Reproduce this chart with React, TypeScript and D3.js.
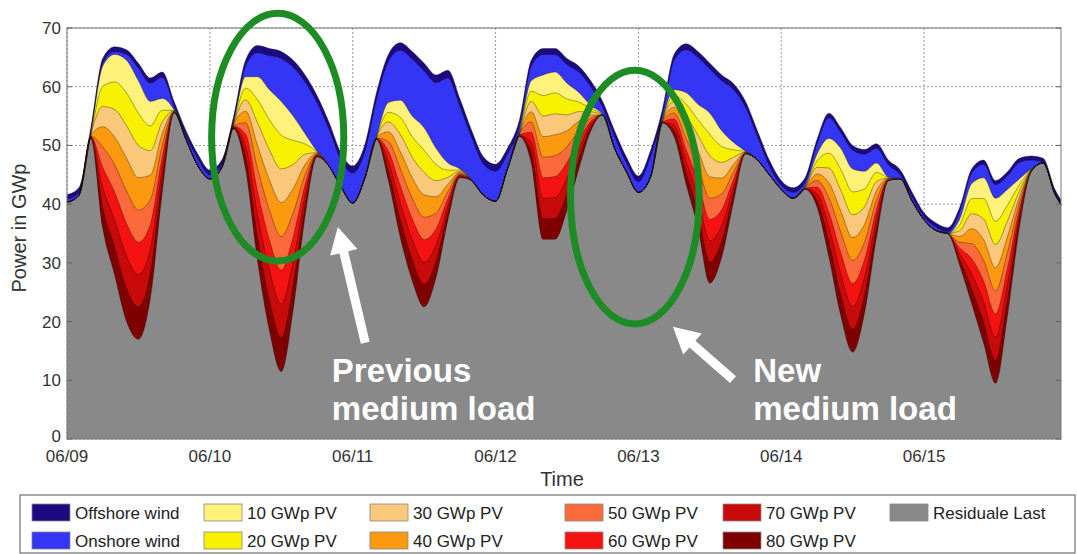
import { useEffect, useRef } from "react";
import * as d3 from "d3";

// time axis: hours after 06/09 00:00, 2h steps
const hours = d3.range(0, 168, 2).concat([167]);

// total load = top of the stack (GW)
const load = [
  41.6, 42.8, 53.0, 64.8, 66.8, 66.3, 64.0, 61.5, 62.5, 57.5, 52.5, 48.5,
  45.8, 47.5, 55.0, 64.5, 67.0, 66.5, 66.0, 64.5, 62.0, 58.5, 54.0, 48.8,
  46.5, 50.0, 59.0, 65.5, 67.5, 66.0, 64.0, 62.0, 62.8, 58.0, 52.5, 48.0,
  46.8, 49.5, 54.3, 64.5, 66.5, 66.5, 64.8, 63.5, 61.0, 57.5, 52.5, 48.0,
  44.8, 49.0, 56.0, 65.5, 67.3, 66.0, 64.0, 62.0, 60.5, 57.5, 52.5, 47.5,
  44.0, 42.8, 44.5, 51.0, 55.5, 53.0, 50.0, 49.3, 50.3, 47.5, 45.8, 42.0,
  38.5, 36.8, 36.0, 39.5, 46.0, 47.5, 44.0, 45.5, 47.8, 48.2, 47.8, 42.5, 40.7,
];

const offshoreWind = [
  0.8, 0.8, 0.8, 0.8, 0.8, 0.8, 0.8, 0.9, 0.9, 0.8, 0.8, 0.8,
  0.8, 0.8, 0.8, 1.0, 1.2, 1.2, 1.2, 1.2, 1.2, 1.2, 1.2, 1.2,
  1.2, 1.2, 1.2, 1.2, 1.3, 1.3, 1.3, 1.3, 1.3, 1.3, 1.2, 1.2,
  1.2, 1.0, 1.0, 1.0, 1.0, 1.0, 1.0, 1.0, 1.0, 1.0, 1.0, 1.0,
  1.0, 1.0, 1.0, 1.0, 1.0, 1.0, 1.0, 1.0, 1.0, 1.0, 1.0, 1.0,
  0.8, 0.8, 0.8, 0.8, 0.8, 0.8, 0.8, 0.8, 0.8, 0.8, 0.8, 0.8,
  0.7, 0.7, 0.7, 0.7, 0.7, 0.7, 0.7, 0.7, 0.7, 0.7, 0.7, 0.7, 0.7,
];

const onshoreWind = [
  0.5, 0.5, 0.2, 0.5, 0.5, 1.0, 2.2, 3.1, 3.6, 0.7, 0.7, 1.2,
  0.7, 0.5, 0.2, 1.8, 4.1, 5.8, 7.3, 8.3, 8.8, 8.3, 6.3, 4.6,
  5.1, 4.5, 6.3, 7.0, 8.5, 9.7, 9.7, 11.2, 14.5, 10.7, 7.3, 5.3,
  5.1, 2.5, 1.0, 2.5, 3.5, 3.0, 3.2, 3.5, 3.2, 1.3, 2.0, 1.5,
  1.8, 3.5, 0.8, 5.0, 7.3, 8.0, 7.5, 8.5, 9.0, 7.5, 4.0, 1.5,
  0.7, 1.0, 0.7, 1.7, 3.5, 2.7, 3.2, 2.9, 2.5, 2.1, 0.7, 0.7,
  0.5, 0.6, 0.3, 1.3, 1.8, 2.3, 2.3, 2.3, 2.8, 1.5, 0.1, 0.1, 0.1,
];

// PV feed-in per 10 GWp installed (GW)
const pvPer10 = [
  0, 0, 0.1, 3.44, 4.69, 5.56, 5.5, 4.19, 2.0, 0.06, 0, 0,
  0, 0, 0.15, 1.96, 3.9, 5.12, 5.75, 4.12, 1.75, 0.12, 0, 0,
  0, 0, 0.06, 1.66, 2.92, 3.5, 3.81, 2.75, 1.21, 0.19, 0, 0,
  0, 0, 0.1, 1.75, 3.5, 3.56, 2.7, 1.62, 0.54, 0, 0, 0,
  0, 0, 0.05, 1.0, 1.94, 2.62, 3.62, 2.69, 1.25, 0.06, 0, 0,
  0, 0, 0.06, 1.12, 2.52, 3.56, 3.9, 3.01, 1.58, 0.08, 0, 0,
  0, 0, 0, 1.0, 2.56, 3.52, 3.94, 2.69, 1.04, 0.06, 0, 0, 0,
];

const dayLabels = ["06/09", "06/10", "06/11", "06/12", "06/13", "06/14", "06/15"];
const yTicks = [0, 10, 20, 30, 40, 50, 60, 70];

const pvKeys = ["pv80", "pv70", "pv60", "pv50", "pv40", "pv30", "pv20", "pv10"];
const stackKeys = ["residual", ...pvKeys, "onshore", "offshore"];

const colors: Record<string, string> = {
  residual: "#898989",
  pv80: "#7e0000",
  pv70: "#c80a0a",
  pv60: "#f51212",
  pv50: "#fb6a3a",
  pv40: "#fb9a10",
  pv30: "#f9c87a",
  pv20: "#f7f000",
  pv10: "#fff27a",
  onshore: "#3535f5",
  offshore: "#1c0b80",
};

const legendItems = [
  ["offshore", "Offshore wind"], ["onshore", "Onshore wind"],
  ["pv10", "10 GWp PV"], ["pv20", "20 GWp PV"],
  ["pv30", "30 GWp PV"], ["pv40", "40 GWp PV"],
  ["pv50", "50 GWp PV"], ["pv60", "60 GWp PV"],
  ["pv70", "70 GWp PV"], ["pv80", "80 GWp PV"],
  ["residual", "Residuale Last"],
];

// annotations in data units (hours, GW)
const ellipses = [
  { h: 35.4, v: 51.4, rh: 11.1, rv: 21.1 },
  { h: 95.4, v: 41.2, rh: 10.8, rv: 21.6 },
];
const arrows = [
  { from: [50.1, 16.4], to: [45.5, 36.1] },
  { from: [111.9, 10.1], to: [101.8, 19.1] },
];
const notes = [
  { h: 44.5, v: 9.7, lines: ["Previous", "medium load"] },
  { h: 115.3, v: 9.7, lines: ["New", "medium load"] },
];

const App: React.FC = () => {
  const svgRef = useRef<SVGSVGElement>(null);

  useEffect(() => {
    const svg = d3.select(svgRef.current);
    svg.selectAll("*").remove();

    const left = 67, right = 1061, top = 28, bottom = 439;
    const font = "'Liberation Sans', Arial, sans-serif";
    const x = d3.scaleLinear().domain([0, 167]).range([left, right]);
    const y = d3.scaleLinear().domain([0, 70]).range([bottom, top]);

    const rows = hours.map((h, i) => {
      const r: any = { h, onshore: onshoreWind[i], offshore: offshoreWind[i] };
      pvKeys.forEach((k) => (r[k] = pvPer10[i]));
      r.residual = load[i] - offshoreWind[i] - onshoreWind[i] - 8 * pvPer10[i];
      return r;
    });
    const series = d3.stack<any>().keys(stackKeys)(rows);

    // grid
    const grid = svg.append("g").attr("stroke", "#999").attr("stroke-dasharray", "2,2").attr("stroke-width", 1);
    dayLabels.forEach((_, i) => {
      grid.append("line").attr("x1", x(i * 24)).attr("x2", x(i * 24)).attr("y1", top).attr("y2", bottom);
    });
    yTicks.forEach((t) => {
      grid.append("line").attr("x1", left).attr("x2", right).attr("y1", y(t)).attr("y2", y(t));
    });

    // areas drawn from zero, top layer first
    const area = d3.area<any>().x((d) => x(d.data.h)).y0(y(0)).y1((d) => y(d[1])).curve(d3.curveMonotoneX);
    const edge = d3.line<any>().x((d) => x(d.data.h)).y((d) => y(d[1])).curve(d3.curveMonotoneX);
    [...series].reverse().forEach((s) => {
      svg.append("path").datum(s).attr("fill", colors[s.key]).attr("d", area);
    });
    series.forEach((s) => {
      svg.append("path").datum(s).attr("fill", "none").attr("stroke", "rgba(20,10,0,0.4)").attr("stroke-width", 0.9).attr("d", edge);
    });

    // frame + ticks
    svg.append("rect").attr("x", left).attr("y", top).attr("width", right - left).attr("height", bottom - top)
      .attr("fill", "none").attr("stroke", "#777").attr("stroke-width", 1);
    const tk = svg.append("g").attr("stroke", "#666");
    yTicks.forEach((t) => {
      tk.append("line").attr("x1", left).attr("x2", left + 5).attr("y1", y(t)).attr("y2", y(t));
      tk.append("line").attr("x1", right - 5).attr("x2", right).attr("y1", y(t)).attr("y2", y(t));
    });

    svg.append("g").selectAll("text").data(yTicks).join("text")
      .attr("x", left - 6).attr("y", (d) => y(d) + (d === 0 ? 3 : 6)).attr("text-anchor", "end")
      .attr("font-family", font).attr("font-size", 17).attr("fill", "#333").text((d) => d);
    svg.append("g").selectAll("text").data(dayLabels).join("text")
      .attr("x", (_, i) => x(i * 24)).attr("y", 462).attr("text-anchor", "middle")
      .attr("font-family", font).attr("font-size", 17).attr("fill", "#333").text((d) => d);
    svg.append("text").attr("x", 562).attr("y", 486).attr("text-anchor", "middle")
      .attr("font-family", font).attr("font-size", 20).attr("fill", "#333").text("Time");
    svg.append("text").attr("transform", "translate(26,228) rotate(-90)").attr("text-anchor", "middle")
      .attr("font-family", font).attr("font-size", 20).attr("fill", "#333").text("Power in GWp");

    // annotations
    ellipses.forEach((e) => {
      svg.append("ellipse").attr("cx", x(e.h)).attr("cy", y(e.v))
        .attr("rx", x(e.rh) - x(0)).attr("ry", y(0) - y(e.rv))
        .attr("fill", "none").attr("stroke", "#1e8c24").attr("stroke-width", 7);
    });
    arrows.forEach((a) => {
      const x1 = x(a.from[0]), y1 = y(a.from[1]), x2 = x(a.to[0]), y2 = y(a.to[1]);
      const len = Math.hypot(x2 - x1, y2 - y1);
      const ux = (x2 - x1) / len, uy = (y2 - y1) / len, nx = -uy, ny = ux;
      const shaft = 4.5, headW = 14, headL = 26;
      const bx = x2 - ux * headL, by = y2 - uy * headL;
      const pts = [
        [x1 + nx * shaft, y1 + ny * shaft], [bx + nx * shaft, by + ny * shaft], [bx + nx * headW, by + ny * headW],
        [x2, y2],
        [bx - nx * headW, by - ny * headW], [bx - nx * shaft, by - ny * shaft], [x1 - nx * shaft, y1 - ny * shaft],
      ];
      svg.append("polygon").attr("points", pts.map((p) => p.join(",")).join(" ")).attr("fill", "#fff");
    });
    notes.forEach((n) => {
      n.lines.forEach((t, i) => {
        svg.append("text").attr("x", x(n.h)).attr("y", y(n.v) + i * 38)
          .attr("font-family", font).attr("font-size", 33).attr("font-weight", "bold").attr("fill", "#fff").text(t);
      });
    });

    // legend
    const lg = svg.append("g");
    lg.append("rect").attr("x", 20).attr("y", 495).attr("width", 1055).attr("height", 58)
      .attr("fill", "#fff").attr("stroke", "#555").attr("stroke-width", 1);
    const colX = [32, 204, 370, 565, 723, 890];
    legendItems.forEach(([key, label], i) => {
      const cx = colX[Math.floor(i / 2)];
      const ry = i % 2 === 0 ? 504 : 532;
      lg.append("rect").attr("x", cx).attr("y", ry).attr("width", 38).attr("height", 17)
        .attr("fill", colors[key]).attr("stroke", "#888").attr("stroke-width", 0.8);
      lg.append("text").attr("x", cx + 43).attr("y", ry + 14.5)
        .attr("font-family", font).attr("font-size", 17).attr("fill", "#222").text(label);
    });
  }, []);

  return (
    <svg ref={svgRef} width={1077} height={554} style={{ position: "absolute", left: 0, top: 0, background: "#fff" }}></svg>
  );
};

export default App;
